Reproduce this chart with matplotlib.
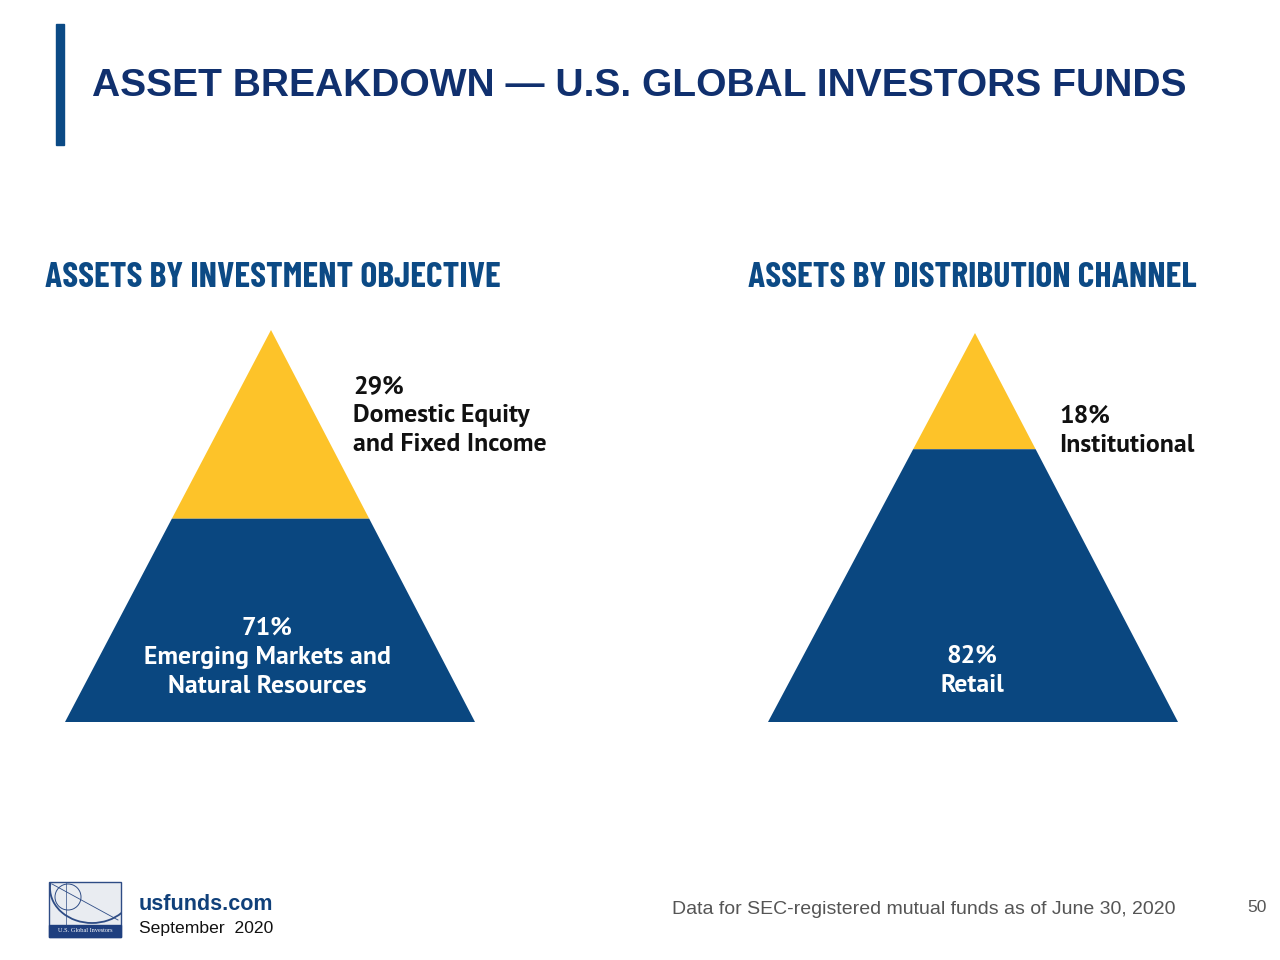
import matplotlib
matplotlib.use("Agg")
from matplotlib import pyplot as plt
from matplotlib.patches import Polygon, Rectangle, Arc

# data
panel_titles = ["ASSETS BY INVESTMENT OBJECTIVE", "ASSETS BY DISTRIBUTION CHANNEL"]
top_labels = ["Domestic Equity\nand Fixed Income", "Institutional"]
top_shares = [29, 18]
bottom_labels = ["Emerging Markets and\nNatural Resources", "Retail"]
bottom_shares = [71, 82]

NAVY = "#0A4780"
YELLOW = "#FDC329"
TITLE_C = "#10306E"

fig = plt.figure(figsize=(12.8, 9.6), dpi=100)
ax = fig.add_axes([0, 0, 1, 1])
ax.set_xlim(0, 1280)
ax.set_ylim(960, 0)
ax.axis("off")

# title bar
ax.add_patch(Rectangle((56, 24), 8, 121, color="#0B4A85"))
ax.text(92, 86, "ASSET BREAKDOWN \u2014 U.S. GLOBAL INVESTORS FUNDS", fontsize=28.1,
        fontweight="bold", color=TITLE_C, family="Liberation Sans", va="center")

head_font = ["Barlow Condensed", "DejaVu Sans"]
lab_font = ["PT Sans", "Barlow Semi Condensed", "DejaVu Sans"]

# pyramid layout (pixel coords)
pyr = [dict(apex=(271, 330), left=65, right=475, base=722, head_x=45),
       dict(apex=(975, 333), left=768, right=1178, base=722, head_x=748)]
scale = 1.66  # height fraction per share of top slice

for i, p in enumerate(pyr):
    ax.text(p["head_x"], 278, panel_titles[i], fontsize=25.7, fontweight="bold",
            color="#0C4A85", family=head_font, va="center")
    ax_x, ax_y = p["apex"]
    h = p["base"] - ax_y
    f = scale * top_shares[i] / 100
    ys = ax_y + f * h
    lx = ax_x + (p["left"] - ax_x) * f
    rx = ax_x + (p["right"] - ax_x) * f
    ax.add_patch(Polygon([(ax_x, ax_y), (lx, ys), (rx, ys)], closed=True,
                         color=YELLOW, lw=0))
    ax.add_patch(Polygon([(lx, ys), (rx, ys), (p["right"], p["base"]),
                          (p["left"], p["base"])], closed=True, color=NAVY, lw=0))

lab_kw = dict(fontsize=18.5, fontweight="bold", family=lab_font, va="top", linespacing=1.32)
# top labels
ax.text(353, 375, f"{top_shares[0]}%\n{top_labels[0]}", ha="left", color="#111111", **lab_kw)
ax.text(1059, 405, f"{top_shares[1]}%\n{top_labels[1]}", ha="left", color="#111111", **lab_kw)
# bottom labels
ax.text(267, 617, f"{bottom_shares[0]}%\n{bottom_labels[0]}", ha="center", color="white", **lab_kw)
ax.text(972, 645, f"{bottom_shares[1]}%\n{bottom_labels[1]}", ha="center", color="white", **lab_kw)

# footer logo
box = Rectangle((49, 882), 72, 55, facecolor="#E9ECF1", edgecolor="#2E4C85", lw=1)
ax.add_patch(box)
ax.add_patch(Rectangle((49, 925), 72, 12, color="#1F3F7F"))
arcs = [Arc((92, 888), 84, 70, theta1=0, theta2=360, color="#2E4C85", lw=1.3),
        Arc((68, 897), 26, 26, theta1=0, theta2=360, color="#2E4C85", lw=0.7)]
for a in arcs:
    ax.add_patch(a)
    a.set_clip_path(Rectangle((49, 882), 72, 43, transform=ax.transData))
ax.plot([52, 118], [884, 920], color="#2E4C85", lw=0.6)
ax.plot([66, 66], [883, 925], color="#2E4C85", lw=0.5)
ax.text(85, 931, "U.S. Global Investors", fontsize=4.5, color="white", ha="center",
        va="center", family="Liberation Serif")
ax.text(139, 905, "usfunds.com", fontsize=15.5, fontweight="bold", color="#10407A",
        family="Liberation Sans", va="center")
ax.text(139, 928, "September  2020", fontsize=12.6, color="#111111",
        family="Liberation Sans", va="center")
ax.text(1176, 909, "Data for SEC-registered mutual funds as of June 30, 2020", fontsize=14,
        color="#555555", family="Liberation Sans", va="center", ha="right")
ax.text(1267, 908, "50", fontsize=12.5, color="#555555", family="Liberation Sans",
        va="center", ha="right")

fig.savefig("out.png", dpi=100)
